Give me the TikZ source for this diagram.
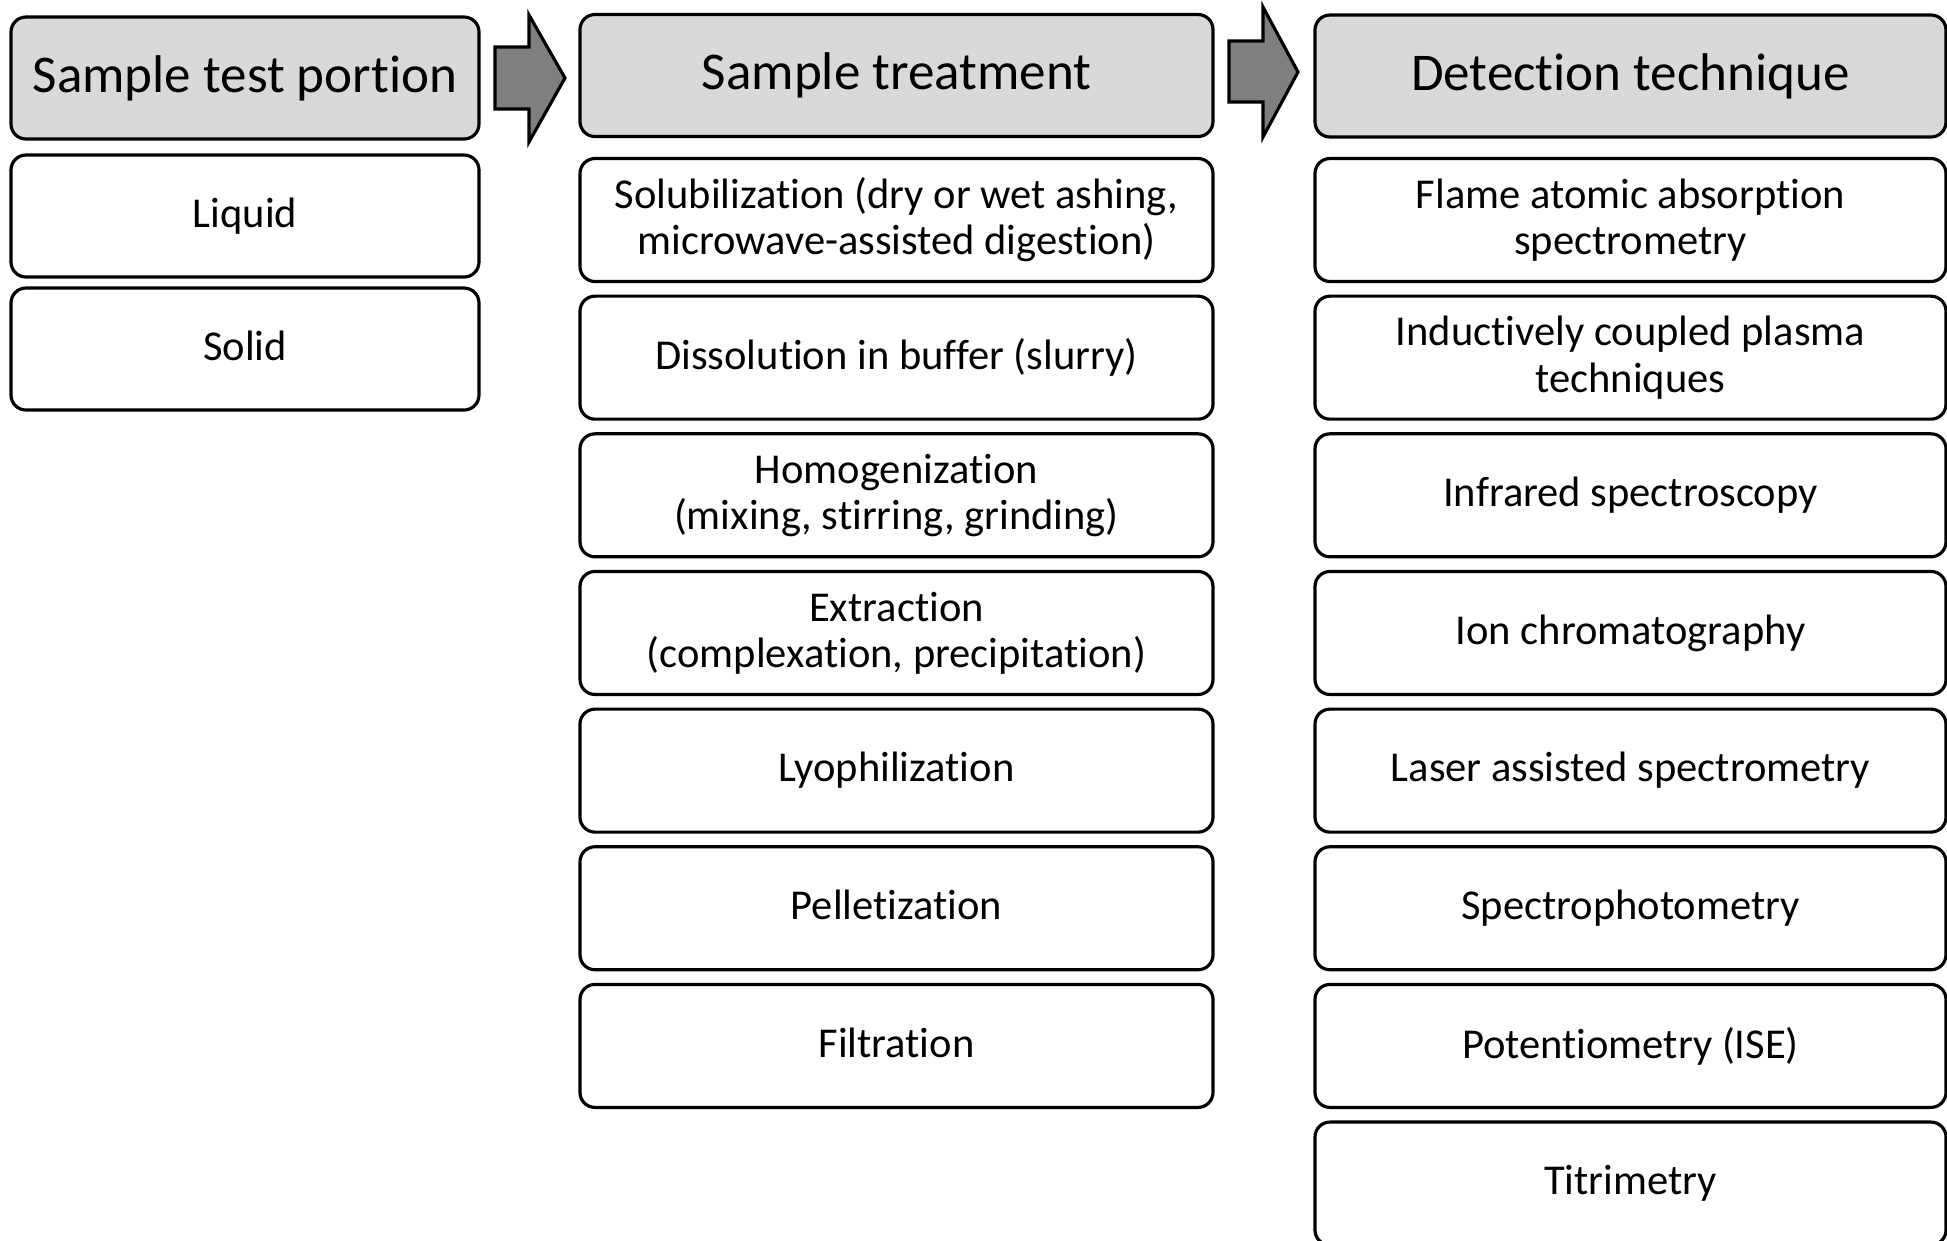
\documentclass[tikz,border=0pt]{standalone}
\usepackage{fontspec}
\setmainfont{Carlito}[Ligatures={NoCommon,NoContextual}, Contextuals=NoAlternate]
\begin{document}
\begin{tikzpicture}[
  x=1cm,y=1cm,
  basebox/.style={draw=black, line width=0.9pt, rounded corners=0.15cm, inner sep=0pt, align=center, text=black},
  headbox/.style={basebox, fill=headgray, minimum height=1.22cm, font=\fontsize{15.1}{18}\selectfont},
  itembox/.style={basebox, fill=white, minimum height=1.23cm, font=\fontsize{12.1}{13.1}\selectfont},
  blockarrow/.style={draw=black, line width=0.9pt, fill=arrowgray, line join=miter},
]
\definecolor{headgray}{HTML}{D9D9D9}
\definecolor{arrowgray}{HTML}{7F7F7F}
\useasboundingbox (0,0) rectangle (19.47,-12.40);

% Column 1
\node[headbox, minimum width=4.68cm] (h1) at (2.45,-0.78) {Sample test portion};
\node[itembox, minimum width=4.68cm, minimum height=1.22cm] (liq) at (2.45,-2.16) {Liquid};
\node[itembox, minimum width=4.68cm, minimum height=1.22cm] (sol) at (2.45,-3.49) {Solid\vphantom{y}};

% Column 2
\node[headbox, minimum width=6.33cm] (h2) at (8.965,-0.755) {Sample treatment};
\node[itembox, minimum width=6.33cm] (t1) at (8.965,-2.2) {Solubilization (dry or wet ashing,\\microwave-assisted digestion)};
\node[itembox, minimum width=6.33cm] (t2) at (8.965,-3.5765) {Dissolution in buffer (slurry)};
\node[itembox, minimum width=6.33cm] (t3) at (8.965,-4.953) {Homogenization\\(mixing, stirring, grinding)};
\node[itembox, minimum width=6.33cm] (t4) at (8.965,-6.3295) {Extraction\\(complexation, precipitation)};
\node[itembox, minimum width=6.33cm] (t5) at (8.965,-7.706) {Lyophilization};
\node[itembox, minimum width=6.33cm] (t6) at (8.965,-9.0825) {Pelletization\vphantom{y}};
\node[itembox, minimum width=6.33cm] (t7) at (8.965,-10.459) {Filtration\vphantom{y}};

% Column 3
\node[headbox, minimum width=6.31cm] (h3) at (16.305,-0.76) {Detection technique};
\node[itembox, minimum width=6.31cm] (d1) at (16.305,-2.2) {Flame atomic absorption\\spectrometry};
\node[itembox, minimum width=6.31cm] (d2) at (16.305,-3.5765) {Inductively coupled plasma\\techniques};
\node[itembox, minimum width=6.31cm] (d3) at (16.305,-4.953) {Infrared spectroscopy};
\node[itembox, minimum width=6.31cm] (d4) at (16.305,-6.3295) {Ion chromatography};
\node[itembox, minimum width=6.31cm] (d5) at (16.305,-7.706) {Laser assisted spectrometry};
\node[itembox, minimum width=6.31cm] (d6) at (16.305,-9.0825) {Spectrophotometry};
\node[itembox, minimum width=6.31cm] (d7) at (16.305,-10.459) {Potentiometry (ISE)};
\node[itembox, minimum width=6.31cm] (d8) at (16.305,-11.8355) {Titrimetry};

% Block arrows
\draw[blockarrow] (4.95,-0.47) -- (5.29,-0.47) -- (5.29,-0.15) -- (5.65,-0.78) -- (5.29,-1.42) -- (5.29,-1.09) -- (4.95,-1.09) -- cycle;
\draw[blockarrow] (12.29,-0.41) -- (12.63,-0.41) -- (12.63,-0.07) -- (12.98,-0.72) -- (12.63,-1.37) -- (12.63,-1.02) -- (12.29,-1.02) -- cycle;
\end{tikzpicture}
\end{document}
